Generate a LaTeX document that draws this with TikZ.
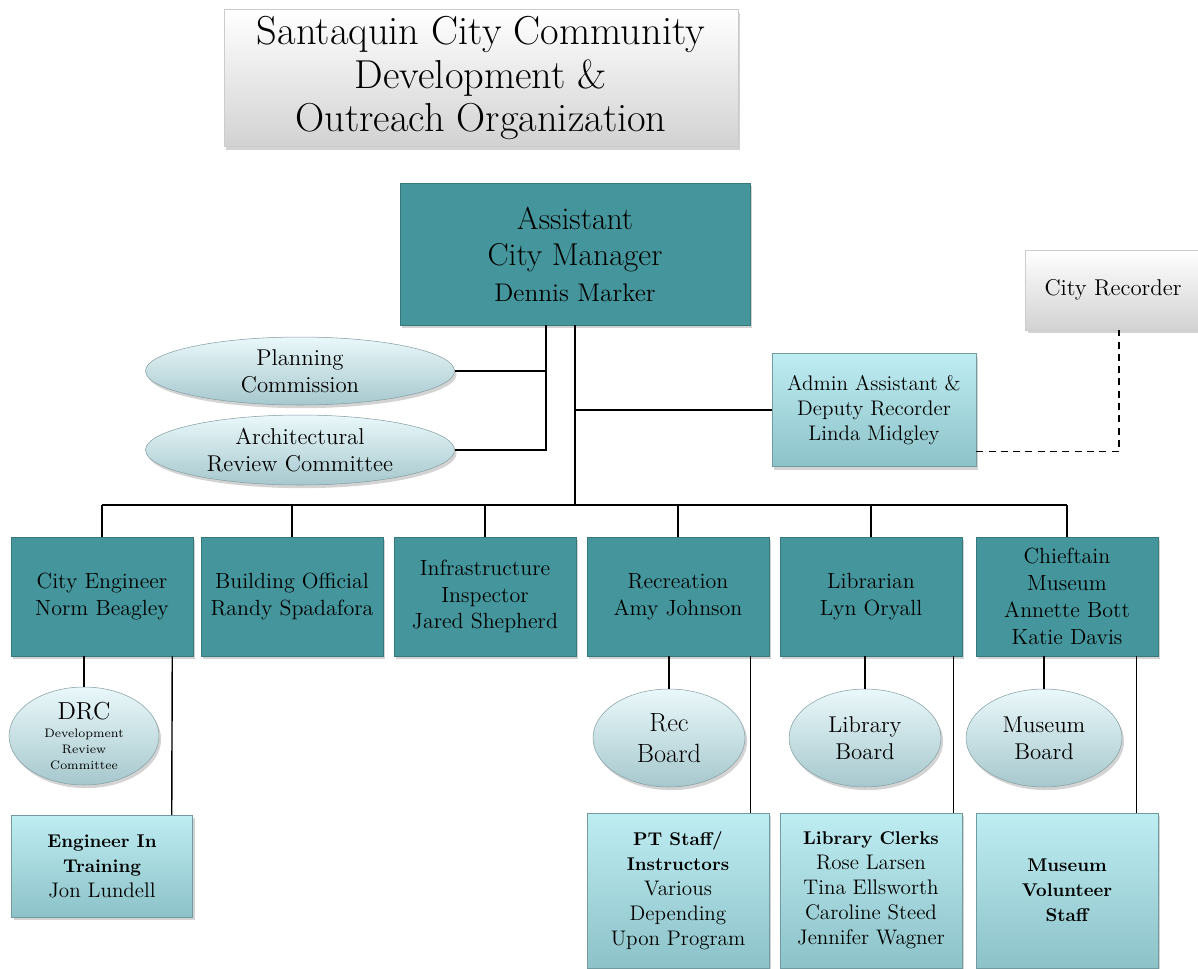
\documentclass[tikz,border=0pt]{standalone}
\usetikzlibrary{shapes.geometric,shadows}

\definecolor{boxteal}{RGB}{69,150,156}
\definecolor{paletop}{RGB}{190,237,242}
\definecolor{palebot}{RGB}{140,194,200}
\definecolor{ovaltop}{RGB}{234,248,250}
\definecolor{ovalbot}{RGB}{166,200,205}
\definecolor{greybot}{RGB}{210,210,210}

\tikzset{
    shade/.style={drop shadow={opacity=0.35,shadow xshift=1.2pt,shadow yshift=-1.8pt}},
    tealbox/.style={rectangle,fill=boxteal,draw=boxteal!80!black,line width=0.3pt,shade,
        minimum width=3.64cm,minimum height=2.38cm,inner sep=0pt,align=center,
        font=\fontsize{12.5}{15.3}\selectfont},
    palebox/.style={rectangle,top color=paletop,bottom color=palebot,draw=palebot!80!black,
        line width=0.3pt,shade,minimum width=3.64cm,inner sep=0pt,align=center,
        font=\fontsize{12}{14.2}\selectfont},
    greybox/.style={rectangle,top color=white,bottom color=greybot,draw=black!20,
        line width=0.3pt,shade,inner sep=0pt,align=center},
    oval/.style={ellipse,top color=ovaltop,bottom color=ovalbot,draw=ovalbot!80!black,
        line width=0.3pt,shade,inner sep=0pt,align=center,
        font=\fontsize{13}{15.3}\selectfont},
    hd/.style={font=\fontsize{10.5}{14.2}\bfseries},
    wire/.style={line width=0.8pt}
}
\newcommand{\hb}[1]{{\fontsize{10.5}{14.2}\selectfont\bfseries #1}}

\begin{document}
\begin{tikzpicture}[x=0.02cm,y=-0.02cm]
    \useasboundingbox (0,0) rectangle (1198,968);

    % title and head
    \node[greybox,minimum width=10.28cm,minimum height=2.74cm,font=\fontsize{23}{25}\selectfont] (title) at (481,78)
        {Santaquin City Community\\Development \&\\Outreach Organization};
    \node[tealbox,minimum width=7cm,minimum height=2.84cm,font=\fontsize{18}{21}\selectfont] (acm) at (575,254)
        {Assistant\\City Manager\\[-1pt]\fontsize{14.5}{18}\selectfont Dennis Marker};
    \node[greybox,minimum width=3.5cm,minimum height=1.6cm,font=\fontsize{13}{15}\selectfont] (rec) at (1113,290) {City Recorder};
    \node[palebox,minimum width=4.08cm,minimum height=2.26cm] (admin) at (874,410)
        {Admin Assistant \&\\Deputy Recorder\\Linda Midgley};

    % committees
    \node[oval,minimum width=6.18cm,minimum height=1.36cm] (plan) at (300,371) {Planning\\Commission};
    \node[oval,minimum width=6.18cm,minimum height=1.4cm] (arc) at (300,450) {Architectural\\Review Committee};

    % departments
    \node[tealbox] (ceng) at (102,596.5) {City Engineer\\Norm Beagley};
    \node[tealbox] (bof) at (292,596.5) {Building Official\\Randy Spadafora};
    \node[tealbox] (infra) at (485,596.5) {Infrastructure\\Inspector\\Jared Shepherd};
    \node[tealbox] (recr) at (678,596.5) {Recreation\\Amy Johnson};
    \node[tealbox] (libr) at (871,596.5) {Librarian\\Lyn Oryall};
    \node[tealbox] (chief) at (1067,596.5) {Chieftain\\Museum\\Annette Bott\\Katie Davis};

    % boards
    \node[oval,minimum width=3cm,minimum height=1.96cm,font=\fontsize{7}{9}\selectfont] (drc) at (84,736)
        {\fontsize{14}{16}\selectfont DRC\\[1pt]Development\\Review\\Committee};
    \node[oval,minimum width=3.04cm,minimum height=1.96cm,font=\fontsize{15}{18}\selectfont] (recb) at (669,738) {Rec\\Board};
    \node[oval,minimum width=3.04cm,minimum height=1.96cm] (libb) at (865,738) {Library\\Board};
    \node[oval,minimum width=3.12cm,minimum height=1.96cm] (musb) at (1044,738) {Museum\\Board};

    % staff
    \node[palebox,minimum width=3.62cm,minimum height=2.04cm] (eit) at (102,866)
        {\hb{Engineer In}\\\hb{Training}\\Jon Lundell};
    \node[palebox,minimum height=3.1cm] (pt) at (678,890.5)
        {\hb{PT Staff/}\\\hb{Instructors}\\Various\\Depending\\Upon Program};
    \node[palebox,minimum height=3.1cm] (clerks) at (871,890.5)
        {\hb{Library Clerks}\\Rose Larsen\\Tina Ellsworth\\Caroline Steed\\Jennifer Wagner};
    \node[palebox,minimum height=3.1cm] (vol) at (1067,890.5)
        {\hb{Museum}\\\hb{Volunteer}\\\hb{Staff}};

    % connectors
    \coordinate (bus) at (575,505);
    \coordinate (k) at ([xshift=-.58cm]acm.south);
    \draw[wire] (acm.south) -- (bus);
    \draw[wire] (k) |- (arc.east);
    \draw[wire] (plan.east) -- (plan.east -| k);
    \draw[wire] (admin.west) -- (admin.west -| acm.south);
    \draw[wire,dash pattern=on 4pt off 3pt] ([yshift=.3cm]admin.south east) -| ([xshift=.12cm]rec.south);
    \draw[wire] (ceng.north |- bus) -- (chief.north |- bus);
    \foreach \n in {ceng,bof,infra,recr,libr,chief} \draw[wire] (\n.north |- bus) -- (\n.north);
    \foreach \a/\b in {ceng/drc,recr/recb,libr/libb,chief/musb} \draw[wire] (\a.south -| \b.north) -- (\b.north);
    \foreach \a/\b/\s in {ceng/eit/.42,recr/pt/.38,libr/clerks/.18,chief/vol/.44}
        \draw[wire] ([xshift=-\s cm]\a.south east) -- ([xshift=-\s cm]\b.north east);
\end{tikzpicture}
\end{document}
